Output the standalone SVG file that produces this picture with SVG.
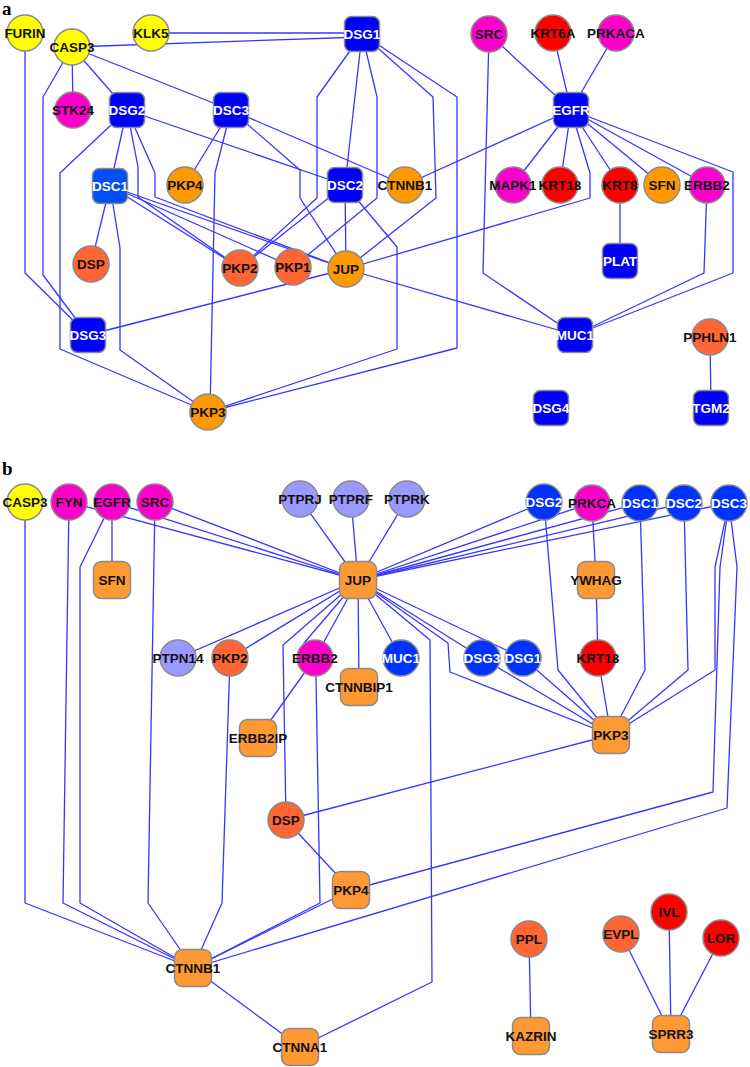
<svg xmlns="http://www.w3.org/2000/svg" width="750" height="1067" viewBox="0 0 750 1067">
<style>
.e{fill:none;stroke:#3636ff;stroke-width:1.3;stroke-linejoin:round}
.n circle,.n rect{stroke:#8a8a8a;stroke-width:1.5}
.t{font-family:"Liberation Sans",Arial,sans-serif;font-weight:bold;font-size:13.5px;text-anchor:middle;dominant-baseline:central}
.k{fill:#111}
.w{fill:#fff}
.yel{fill:#ffff00}.mag{fill:#ff00cc}.blu{fill:#0000ff}.blu2{fill:#0050f5}.org{fill:#ff9900}
.ore{fill:#ff6633}.red{fill:#ff0000}.orb{fill:#ff9933}.bl3{fill:#0033ff}.lav{fill:#9999ff}
.lbl{font-family:"Liberation Serif","Times New Roman",serif;font-weight:bold;font-size:19px;fill:#000}
</style>
<rect width="750" height="1067" fill="#fff"/>
<text class="lbl" x="2" y="15">a</text>
<text class="lbl" x="2" y="475">b</text>
<g id="connectors">
<!-- panel a -->
<path class="e" d="M151,33 L362,33"/>
<path class="e" d="M72,47 L362,37"/>
<path class="e" d="M25,33 L25,273 L88,335"/>
<path class="e" d="M72,47 L43,97 L43,275 L88,335"/>
<path class="e" d="M72,47 L73,110"/>
<path class="e" d="M72,47 L127,110"/>
<path class="e" d="M72,47 L231,110"/>
<path class="e" d="M127,110 L60,173 L60,349 L208,412"/>
<path class="e" d="M127,110 L110,186"/>
<path class="e" d="M127,110 L138,167 L138,197 L240,268"/>
<path class="e" d="M127,110 L155,173 L155,197 L346,269"/>
<path class="e" d="M127,110 L345,185"/>
<path class="e" d="M110,186 L91,264"/>
<path class="e" d="M110,186 L120,248 L120,350 L208,412"/>
<path class="e" d="M110,186 L240,268"/>
<path class="e" d="M110,186 L293,267"/>
<path class="e" d="M110,186 L346,269"/>
<path class="e" d="M231,110 L185,185"/>
<path class="e" d="M231,110 L215,173 L210,412"/>
<path class="e" d="M231,110 L300,170 L300,198 L346,269"/>
<path class="e" d="M231,110 L405,185"/>
<path class="e" d="M362,34 L317,97 L317,198 L240,268"/>
<path class="e" d="M362,34 L345,185"/>
<path class="e" d="M362,34 L377,97 L377,198 L293,267"/>
<path class="e" d="M362,34 L433,97 L436,198 L346,269"/>
<path class="e" d="M362,34 L457,97 L457,348 L208,412"/>
<path class="e" d="M345,185 L346,269"/>
<path class="e" d="M345,185 L240,268"/>
<path class="e" d="M345,185 L397,247 L397,349 L208,412"/>
<path class="e" d="M346,269 L88,335"/>
<path class="e" d="M346,269 L590,198 L590,173 L571,110"/>
<path class="e" d="M346,269 L575,335"/>
<path class="e" d="M405,185 L571,110"/>
<path class="e" d="M489,34 L571,110"/>
<path class="e" d="M489,34 L483,273 L575,335"/>
<path class="e" d="M553,33 L571,110"/>
<path class="e" d="M616,33 L571,110"/>
<path class="e" d="M571,110 L513,185"/>
<path class="e" d="M571,110 L560,185"/>
<path class="e" d="M571,110 L620,185"/>
<path class="e" d="M571,110 L662,185"/>
<path class="e" d="M571,110 L707,185"/>
<path class="e" d="M571,110 L733,172 L733,273 L575,335"/>
<path class="e" d="M707,185 L704,273 L575,335"/>
<path class="e" d="M620,185 L620,261"/>
<path class="e" d="M710,337 L711,408"/>
<!-- panel b -->
<path class="e" d="M69,502 L358,580"/>
<path class="e" d="M112,502 L358,580"/>
<path class="e" d="M155,502 L358,580"/>
<path class="e" d="M300,499 L358,580"/>
<path class="e" d="M351,499 L358,580"/>
<path class="e" d="M407,499 L358,580"/>
<path class="e" d="M544,502 L358,580"/>
<path class="e" d="M592,503 L358,580"/>
<path class="e" d="M640,503 L358,580"/>
<path class="e" d="M684,503 L358,580"/>
<path class="e" d="M729,503 L358,580"/>
<path class="e" d="M358,580 L178,658"/>
<path class="e" d="M358,580 L230,658"/>
<path class="e" d="M358,580 L315,658"/>
<path class="e" d="M358,580 L359,687"/>
<path class="e" d="M358,580 L401,658"/>
<path class="e" d="M358,580 L482,658"/>
<path class="e" d="M358,580 L523,658"/>
<path class="e" d="M358,580 L283,645 L286,820"/>
<path class="e" d="M358,580 L304,643 L316,677 L320,903 L193,968"/>
<path class="e" d="M358,580 L430,640 L432,982 L300,1047"/>
<path class="e" d="M358,580 L448,643 L450,672 L611,735"/>
<path class="e" d="M482,658 L611,735"/>
<path class="e" d="M523,658 L611,735"/>
<path class="e" d="M544,502 L558,670 L611,735"/>
<path class="e" d="M598,658 L611,735"/>
<path class="e" d="M640,503 L645,670 L611,735"/>
<path class="e" d="M684,503 L688,670 L611,735"/>
<path class="e" d="M729,503 L715,567 L715,670 L611,735"/>
<path class="e" d="M729,503 L720,567 L713,792 L351,890"/>
<path class="e" d="M729,503 L737,567 L727,808 L193,968"/>
<path class="e" d="M611,735 L286,820"/>
<path class="e" d="M286,820 L351,890"/>
<path class="e" d="M351,890 L193,968"/>
<path class="e" d="M230,658 L222,903 L193,968"/>
<path class="e" d="M155,502 L148,903 L193,968"/>
<path class="e" d="M112,502 L80,567 L80,903 L193,968"/>
<path class="e" d="M69,502 L63,903 L193,968"/>
<path class="e" d="M25,502 L25,903 L193,968"/>
<path class="e" d="M112,502 L112,580"/>
<path class="e" d="M193,968 L300,1047"/>
<path class="e" d="M592,503 L596,580"/>
<path class="e" d="M596,580 L598,658"/>
<path class="e" d="M315,658 L258,738"/>
<path class="e" d="M529,939 L531,1036"/>
<path class="e" d="M621,934 L671,1034"/>
<path class="e" d="M669,912 L671,1034"/>
<path class="e" d="M721,938 L671,1034"/>
</g>
<!-- panel a nodes -->
<g id="a-FURIN" class="n"><circle class="yel" cx="25" cy="33" r="18"/><text class="t k" x="25" y="33">FURIN</text></g>
<g id="a-CASP3" class="n"><circle class="yel" cx="72" cy="47" r="18"/><text class="t k" x="72" y="47">CASP3</text></g>
<g id="a-KLK5" class="n"><circle class="yel" cx="151" cy="33" r="18"/><text class="t k" x="151" y="33">KLK5</text></g>
<g id="a-DSG1" class="n"><rect class="blu" x="344.5" y="16.5" width="35" height="35" rx="7"/><text class="t w" x="362" y="34">DSG1</text></g>
<g id="a-STK24" class="n"><circle class="mag" cx="73" cy="110" r="18"/><text class="t k" x="73" y="110">STK24</text></g>
<g id="a-DSG2" class="n"><rect class="blu" x="109.5" y="92.5" width="35" height="35" rx="7"/><text class="t w" x="127" y="110">DSG2</text></g>
<g id="a-DSC3" class="n"><rect class="blu" x="213.5" y="92.5" width="35" height="35" rx="7"/><text class="t w" x="231" y="110">DSC3</text></g>
<g id="a-DSC1" class="n"><rect class="blu2" x="92.5" y="168.5" width="35" height="35" rx="7"/><text class="t w" x="110" y="186">DSC1</text></g>
<g id="a-PKP4" class="n"><circle class="org" cx="185" cy="185" r="18"/><text class="t k" x="185" y="185">PKP4</text></g>
<g id="a-DSC2" class="n"><rect class="blu" x="327.5" y="167.5" width="35" height="35" rx="7"/><text class="t w" x="345" y="185">DSC2</text></g>
<g id="a-CTNNB1" class="n"><circle class="org" cx="405" cy="185" r="18"/><text class="t k" x="405" y="185">CTNNB1</text></g>
<g id="a-DSP" class="n"><circle class="ore" cx="91" cy="264" r="18"/><text class="t k" x="91" y="264">DSP</text></g>
<g id="a-PKP2" class="n"><circle class="ore" cx="240" cy="268" r="18"/><text class="t k" x="240" y="268">PKP2</text></g>
<g id="a-PKP1" class="n"><circle class="ore" cx="293" cy="267" r="18"/><text class="t k" x="293" y="267">PKP1</text></g>
<g id="a-JUP" class="n"><circle class="org" cx="346" cy="269" r="18"/><text class="t k" x="346" y="269">JUP</text></g>
<g id="a-DSG3" class="n"><rect class="blu" x="70.5" y="317.5" width="35" height="35" rx="7"/><text class="t w" x="88" y="335">DSG3</text></g>
<g id="a-PKP3" class="n"><circle class="org" cx="208" cy="412" r="18"/><text class="t k" x="208" y="412">PKP3</text></g>
<g id="a-SRC" class="n"><circle class="mag" cx="489" cy="34" r="18"/><text class="t k" x="489" y="34">SRC</text></g>
<g id="a-KRT6A" class="n"><circle class="red" cx="553" cy="33" r="18"/><text class="t k" x="553" y="33">KRT6A</text></g>
<g id="a-PRKACA" class="n"><circle class="mag" cx="616" cy="33" r="18"/><text class="t k" x="616" y="33">PRKACA</text></g>
<g id="a-EGFR" class="n"><rect class="blu" x="553.5" y="92.5" width="35" height="35" rx="7"/><text class="t w" x="571" y="110">EGFR</text></g>
<g id="a-MAPK1" class="n"><circle class="mag" cx="513" cy="185" r="18"/><text class="t k" x="513" y="185">MAPK1</text></g>
<g id="a-KRT18" class="n"><circle class="red" cx="560" cy="185" r="18"/><text class="t k" x="560" y="185">KRT18</text></g>
<g id="a-KRT8" class="n"><circle class="red" cx="620" cy="185" r="18"/><text class="t k" x="620" y="185">KRT8</text></g>
<g id="a-SFN" class="n"><circle class="org" cx="662" cy="185" r="18"/><text class="t k" x="662" y="185">SFN</text></g>
<g id="a-ERBB2" class="n"><circle class="mag" cx="707" cy="185" r="18"/><text class="t k" x="707" y="185">ERBB2</text></g>
<g id="a-PLAT" class="n"><rect class="blu" x="602.5" y="243.5" width="35" height="35" rx="7"/><text class="t w" x="620" y="261">PLAT</text></g>
<g id="a-MUC1" class="n"><rect class="blu" x="557.5" y="317.5" width="35" height="35" rx="7"/><text class="t w" x="575" y="335">MUC1</text></g>
<g id="a-PPHLN1" class="n"><circle class="ore" cx="710" cy="337" r="18"/><text class="t k" x="710" y="337">PPHLN1</text></g>
<g id="a-DSG4" class="n"><rect class="blu" x="533.5" y="390.5" width="35" height="35" rx="7"/><text class="t w" x="551" y="408">DSG4</text></g>
<g id="a-TGM2" class="n"><rect class="blu" x="693.5" y="390.5" width="35" height="35" rx="7"/><text class="t w" x="711" y="408">TGM2</text></g>
<!-- panel b nodes -->
<g id="b-CASP3" class="n"><circle class="yel" cx="25" cy="502" r="18"/><text class="t k" x="25" y="502">CASP3</text></g>
<g id="b-FYN" class="n"><circle class="mag" cx="69" cy="502" r="18"/><text class="t k" x="69" y="502">FYN</text></g>
<g id="b-EGFR" class="n"><circle class="mag" cx="112" cy="502" r="18"/><text class="t k" x="112" y="502">EGFR</text></g>
<g id="b-SRC" class="n"><circle class="mag" cx="155" cy="502" r="18"/><text class="t k" x="155" y="502">SRC</text></g>
<g id="b-SFN" class="n"><rect class="orb" x="93.5" y="561.5" width="37" height="37" rx="8"/><text class="t k" x="112" y="580">SFN</text></g>
<g id="b-JUP" class="n"><rect class="orb" x="339.5" y="561.5" width="37" height="37" rx="8"/><text class="t k" x="358" y="580">JUP</text></g>
<g id="b-PTPRJ" class="n"><circle class="lav" cx="300" cy="499" r="18"/><text class="t k" x="300" y="499">PTPRJ</text></g>
<g id="b-PTPRF" class="n"><circle class="lav" cx="351" cy="499" r="18"/><text class="t k" x="351" y="499">PTPRF</text></g>
<g id="b-PTPRK" class="n"><circle class="lav" cx="407" cy="499" r="18"/><text class="t k" x="407" y="499">PTPRK</text></g>
<g id="b-DSG2" class="n"><circle class="bl3" cx="544" cy="502" r="18"/><text class="t w" x="544" y="502">DSG2</text></g>
<g id="b-PRKCA" class="n"><circle class="mag" cx="592" cy="503" r="18"/><text class="t k" x="592" y="503">PRKCA</text></g>
<g id="b-DSC1" class="n"><circle class="bl3" cx="640" cy="503" r="18"/><text class="t w" x="640" y="503">DSC1</text></g>
<g id="b-DSC2" class="n"><circle class="bl3" cx="684" cy="503" r="18"/><text class="t w" x="684" y="503">DSC2</text></g>
<g id="b-DSC3" class="n"><circle class="bl3" cx="729" cy="503" r="18"/><text class="t w" x="729" y="503">DSC3</text></g>
<g id="b-YWHAG" class="n"><rect class="orb" x="577.5" y="561.5" width="37" height="37" rx="8"/><text class="t k" x="596" y="580">YWHAG</text></g>
<g id="b-PTPN14" class="n"><circle class="lav" cx="178" cy="658" r="18"/><text class="t k" x="178" y="658">PTPN14</text></g>
<g id="b-PKP2" class="n"><circle class="ore" cx="230" cy="658" r="18"/><text class="t k" x="230" y="658">PKP2</text></g>
<g id="b-ERBB2" class="n"><circle class="mag" cx="315" cy="658" r="18"/><text class="t k" x="315" y="658">ERBB2</text></g>
<g id="b-MUC1" class="n"><circle class="bl3" cx="401" cy="658" r="18"/><text class="t w" x="401" y="658">MUC1</text></g>
<g id="b-CTNNBIP1" class="n"><rect class="orb" x="340.5" y="668.5" width="37" height="37" rx="8"/><text class="t k" x="359" y="687">CTNNBIP1</text></g>
<g id="b-DSG3" class="n"><circle class="bl3" cx="482" cy="658" r="18"/><text class="t w" x="482" y="658">DSG3</text></g>
<g id="b-DSG1" class="n"><circle class="bl3" cx="523" cy="658" r="18"/><text class="t w" x="523" y="658">DSG1</text></g>
<g id="b-KRT18" class="n"><circle class="red" cx="598" cy="658" r="18"/><text class="t k" x="598" y="658">KRT18</text></g>
<g id="b-ERBB2IP" class="n"><rect class="orb" x="239.5" y="719.5" width="37" height="37" rx="8"/><text class="t k" x="258" y="738">ERBB2IP</text></g>
<g id="b-PKP3" class="n"><rect class="orb" x="592.5" y="716.5" width="37" height="37" rx="8"/><text class="t k" x="611" y="735">PKP3</text></g>
<g id="b-DSP" class="n"><circle class="ore" cx="286" cy="820" r="18"/><text class="t k" x="286" y="820">DSP</text></g>
<g id="b-PKP4" class="n"><rect class="orb" x="332.5" y="871.5" width="37" height="37" rx="8"/><text class="t k" x="351" y="890">PKP4</text></g>
<g id="b-CTNNB1" class="n"><rect class="orb" x="174.5" y="949.5" width="37" height="37" rx="8"/><text class="t k" x="193" y="968">CTNNB1</text></g>
<g id="b-CTNNA1" class="n"><rect class="orb" x="281.5" y="1028.5" width="37" height="37" rx="8"/><text class="t k" x="300" y="1047">CTNNA1</text></g>
<g id="b-PPL" class="n"><circle class="ore" cx="529" cy="939" r="18"/><text class="t k" x="529" y="939">PPL</text></g>
<g id="b-KAZRIN" class="n"><rect class="orb" x="512.5" y="1017.5" width="37" height="37" rx="8"/><text class="t k" x="531" y="1036">KAZRIN</text></g>
<g id="b-EVPL" class="n"><circle class="ore" cx="621" cy="934" r="18"/><text class="t k" x="621" y="934">EVPL</text></g>
<g id="b-IVL" class="n"><circle class="red" cx="669" cy="912" r="18"/><text class="t k" x="669" y="912">IVL</text></g>
<g id="b-LOR" class="n"><circle class="red" cx="721" cy="938" r="18"/><text class="t k" x="721" y="938">LOR</text></g>
<g id="b-SPRR3" class="n"><rect class="orb" x="652.5" y="1015.5" width="37" height="37" rx="8"/><text class="t k" x="671" y="1034">SPRR3</text></g>
</svg>
